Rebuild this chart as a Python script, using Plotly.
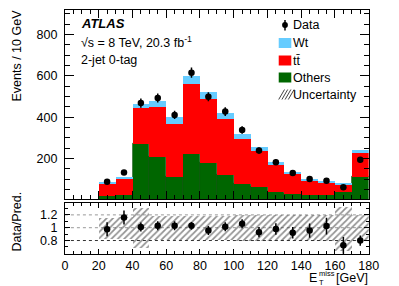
import plotly.graph_objects as go

# ---------------- data ----------------
bin_centers = [25, 35, 45, 55, 65, 75, 85, 95, 105, 115, 125, 135, 145, 155, 165, 175]
others = [22, 25, 274, 210, 113, 223, 181, 121, 80, 64, 40, 30, 27, 27, 41, 113]
ttbar = [61, 80, 172, 244, 258, 340, 307, 272, 218, 176, 133, 100, 70, 58, 37, 116]
wt = [6, 7, 18, 29, 32, 36, 35, 29, 24, 18, 11, 9, 8, 8, 5, 16]
data = [88, 133, 468, 493, 411, 615, 499, 427, 338, 239, 183, 131, 102, 93, 62, 194]
data_err = [10, 12, 22, 22, 20, 25, 22, 21, 18, 15, 14, 11, 10, 10, 8, 14]
ratio = [0.975, 1.16, 1.01, 1.03, 1.03, 1.03, 0.955, 1.015, 1.06, 0.93, 0.98, 0.92, 0.955, 1.025, 0.725, 0.80]
ratio_err = [0.11, 0.11, 0.07, 0.07, 0.07, 0.06, 0.07, 0.07, 0.07, 0.08, 0.09, 0.09, 0.11, 0.13, 0.13, 0.08]
unc_lo = [0.83, 0.83, 0.69, 0.81, 0.81, 0.81, 0.81, 0.81, 0.80, 0.80, 0.80, 0.80, 0.80, 0.80, 0.64, 0.80]
unc_hi = [1.15, 1.17, 1.31, 1.18, 1.18, 1.18, 1.18, 1.18, 1.20, 1.20, 1.20, 1.20, 1.20, 1.20, 1.33, 1.20]
x_ticks = [0, 20, 40, 60, 80, 100, 120, 140, 160, 180]
main_y_ticks = [200, 400, 600, 800]
ratio_y_ticks = [0.8, 1.0, 1.2]
ratio_y_labels = ["0.8", "1", "1.2"]

C_WT = "#66ccff"
C_TT = "#ff0000"
C_OT = "#006600"
FONT = "Liberation Sans, Arial, Helvetica, sans-serif"

W, H = 399, 286
def px(x):
    return x / W
def py(y):
    return 1 - y / H

tt_base = others
wt_base = [o + t for o, t in zip(others, ttbar)]
unc_height = [h - l for h, l in zip(unc_hi, unc_lo)]

fig = go.Figure()
fig.add_trace(go.Bar(x=bin_centers, y=others, base=[0] * len(others), width=10,
                     marker=dict(color=C_OT, line=dict(color="#004d00", width=0.6)),
                     xaxis="x", yaxis="y", showlegend=False))
fig.add_trace(go.Bar(x=bin_centers, y=ttbar, base=tt_base, width=10,
                     marker=dict(color=C_TT, line=dict(width=0)),
                     xaxis="x", yaxis="y", showlegend=False))
fig.add_trace(go.Bar(x=bin_centers, y=wt, base=wt_base, width=10,
                     marker=dict(color=C_WT, line=dict(width=0)),
                     xaxis="x", yaxis="y", showlegend=False))
fig.add_trace(go.Scatter(x=bin_centers, y=data, mode="markers",
                         marker=dict(color="black", size=6.5),
                         error_y=dict(type="data", array=data_err, color="black", thickness=1.5, width=0),
                         xaxis="x", yaxis="y", showlegend=False))

# ratio panel
fig.add_trace(go.Bar(x=bin_centers, y=unc_height, base=unc_lo, width=10,
                     marker=dict(color="rgba(0,0,0,0)", line=dict(width=0),
                                 pattern=dict(shape="/", fgcolor="#222222", bgcolor="rgba(0,0,0,0)",
                                              size=4.5, solidity=0.38)),
                     xaxis="x2", yaxis="y2", showlegend=False))
fig.add_trace(go.Scatter(x=bin_centers, y=ratio, mode="markers",
                         marker=dict(color="black", size=6.5),
                         error_y=dict(type="data", array=ratio_err, color="black", thickness=1.5, width=0),
                         xaxis="x2", yaxis="y2", showlegend=False))

xdom = [px(64), px(378)]
main_dom = [py(199), py(9.5)]
ratio_dom = [py(254), py(202.7)]

axis_common = dict(showline=True, linecolor="black", linewidth=1, mirror="allticks",
                   ticks="inside", tickcolor="black", showgrid=False, zeroline=False,
                   tickfont=dict(family=FONT, size=12.5, color="black"))

fig.update_layout(
    width=W, height=H, margin=dict(l=0, r=0, t=0, b=0),
    paper_bgcolor="white", plot_bgcolor="white", barmode="overlay", bargap=0,
    font=dict(family=FONT, color="black"),
    xaxis=dict(domain=xdom, anchor="y", range=[0, 180], tickvals=x_ticks, showticklabels=False,
               ticklen=8, minor=dict(dtick=5, ticklen=4, ticks="inside", tickcolor="black"),
               **axis_common),
    yaxis=dict(domain=main_dom, anchor="x", range=[5, 920], tickvals=main_y_ticks,
               ticklen=9, minor=dict(dtick=50, ticklen=5, ticks="inside", tickcolor="black"),
               ticklabelstandoff=4, **axis_common),
    xaxis2=dict(domain=xdom, anchor="y2", range=[0, 180], tickvals=x_ticks, ticklen=5,
                minor=dict(dtick=5, ticklen=3, ticks="inside", tickcolor="black"),
                ticklabelstandoff=0, **axis_common),
    yaxis2=dict(domain=ratio_dom, anchor="x2", range=[0.59, 1.39], tickvals=ratio_y_ticks,
                ticktext=ratio_y_labels, ticklen=5,
                minor=dict(dtick=0.1, ticklen=3, ticks="inside", tickcolor="black"),
                ticklabelstandoff=4, **axis_common),
)

# reference lines in ratio panel
for v, c in zip(ratio_y_ticks, ["#333333", "#999999", "#999999"]):
    fig.add_shape(type="line", xref="x2", yref="y2", x0=0, x1=180, y0=v, y1=v,
                  line=dict(color=c, width=1, dash="dot"), layer="below")

ann = []
def text(x, y, s, size=12.5, xanchor="left", yanchor="middle", angle=0, **kw):
    ann.append(dict(x=px(x), y=py(y), xref="paper", yref="paper", text=s, showarrow=False,
                    xanchor=xanchor, yanchor=yanchor, textangle=angle, borderpad=0,
                    font=dict(family=FONT, size=size, color="black", **kw)))

text(80, 23.5, "<b><i>ATLAS</i></b>", size=13)
text(80, 42.5, "√s = 8 TeV, 20.3 fb<sup>-1</sup>")
text(80, 60, "2-jet 0-tag")

# legend
leg_y = [25, 43, 60.5, 77.5, 94.5]
leg_txt = ["Data", "Wt", "tt̄", "Others", "Uncertainty"]
for y, s in zip(leg_y, leg_txt):
    text(299, y, s)
fig.add_shape(type="line", xref="paper", yref="paper", x0=px(291.5), x1=px(291.5),
              y0=py(20), y1=py(30.5), line=dict(color="black", width=1.5))
fig.add_shape(type="circle", xref="paper", yref="paper", x0=px(288.5), x1=px(294.5),
              y0=py(28), y1=py(22), fillcolor="black", line=dict(color="black", width=0))
for y, c in zip(leg_y[1:4], [C_WT, C_TT, C_OT]):
    fig.add_shape(type="rect", xref="paper", yref="paper", x0=px(285), x1=px(298),
                  y0=py(y + 5), y1=py(y - 5), fillcolor=c, line=dict(width=0))
# hatched legend box
for i in range(4):
    x0 = 285 + i * 3.3
    fig.add_shape(type="line", xref="paper", yref="paper", x0=px(x0), x1=px(x0 + 6),
                  y0=py(leg_y[4] + 5), y1=py(leg_y[4] - 5), line=dict(color="#444444", width=1))

# axis titles
text(14, 56, "Events / 10 GeV", xanchor="center", angle=-90)
text(14, 222, "Data/Pred.", xanchor="center", angle=-90)
text(315, 277.5, "E", xanchor="left")
text(326, 273.5, "miss", size=7.5, xanchor="left")
text(326, 282.8, "T", size=7.5, xanchor="left")
text(378, 277.5, "[GeV]", xanchor="right")

fig.update_layout(annotations=ann)
fig.write_html("out.html", config={"displayModeBar": False},
               post_script="document.body.style.margin='0px';document.body.style.overflow='hidden';")
